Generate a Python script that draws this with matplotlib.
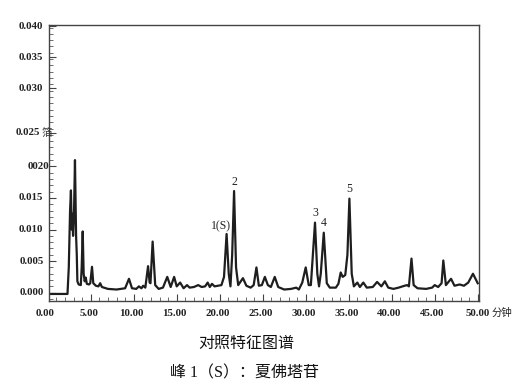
import matplotlib
matplotlib.use("Agg")
import matplotlib.pyplot as plt
from matplotlib.ticker import MultipleLocator, FixedLocator
import matplotlib.transforms as mtransforms

# retention time (min) and detector signal
time_min = [0.0, 2.3, 2.45, 2.6, 2.7, 2.8, 2.85, 2.95, 3.05, 3.17, 3.3, 3.38, 3.45, 3.6,
            3.85, 3.95, 4.07, 4.18, 4.3, 4.42, 4.55, 4.8, 4.95, 5.15, 5.3, 5.6, 5.9,
            6.1, 6.3, 7.0, 8.0, 9.0, 9.45, 9.8, 10.3, 10.6, 10.9, 11.1, 11.35, 11.67,
            11.85, 11.95, 12.2, 12.5, 12.9, 13.4, 13.9, 14.3, 14.7, 15.0, 15.4, 15.8,
            16.2, 16.5, 17.0, 17.5, 17.9, 18.3, 18.6, 18.85, 19.1, 19.4, 19.8, 20.2,
            20.5, 20.8, 21.05, 21.25, 21.45, 21.67, 21.9, 22.15, 22.7, 23.1, 23.6,
            23.95, 24.27, 24.55, 24.9, 25.25, 25.6, 25.95, 26.4, 26.8, 27.5, 28.3,
            28.9, 29.2, 29.6, 30.0, 30.35, 30.6, 31.08, 31.35, 31.55, 31.75, 32.1,
            32.45, 32.8, 33.5, 33.8, 34.07, 34.3, 34.6, 34.85, 35.08, 35.35, 35.6,
            36.0, 36.3, 36.7, 37.1, 37.8, 38.3, 38.8, 39.2, 39.6, 40.2, 40.8, 41.5,
            41.8, 42.0, 42.3, 42.55, 43.0, 44.0, 44.7, 45.0, 45.4, 45.8, 46.0, 46.3,
            46.9, 47.3, 47.9, 48.4, 48.9, 49.45, 50.0]
signal = [-0.0002, -0.0002, 0.004, 0.013, 0.0162, 0.010, 0.0125, 0.009, 0.012, 0.021,
          0.009, 0.006, 0.0018, 0.0013, 0.0012, 0.004, 0.0097, 0.003, 0.0018, 0.0024,
          0.0014, 0.0013, 0.0015, 0.0041, 0.0015, 0.0011, 0.0010, 0.0015, 0.0009,
          0.0006, 0.0005, 0.0007, 0.0022, 0.0007, 0.0006, 0.001, 0.0007, 0.0011,
          0.0008, 0.0042, 0.0016, 0.0015, 0.0081, 0.0012, 0.0006, 0.0008, 0.0025,
          0.0009, 0.0025, 0.0010, 0.0016, 0.0007, 0.0012, 0.0008, 0.0009, 0.0012,
          0.0009, 0.0010, 0.0016, 0.0009, 0.0014, 0.0010, 0.0011, 0.0012, 0.0025,
          0.0093, 0.003, 0.001, 0.006, 0.0161, 0.004, 0.0012, 0.0023, 0.0011, 0.0008,
          0.0012, 0.0040, 0.0011, 0.0012, 0.0025, 0.0012, 0.0009, 0.0025, 0.0009,
          0.0005, 0.0006, 0.0008, 0.0005, 0.0016, 0.0040, 0.0012, 0.0012, 0.0111,
          0.003, 0.001, 0.003, 0.0095, 0.0015, 0.0008, 0.0008, 0.0014, 0.0032, 0.0025,
          0.0028, 0.006, 0.0149, 0.003, 0.0010, 0.0016, 0.0009, 0.0016, 0.0008,
          0.0009, 0.0017, 0.0010, 0.0018, 0.0008, 0.0006, 0.0008, 0.0011, 0.0012,
          0.0010, 0.0054, 0.0012, 0.0007, 0.0006, 0.0008, 0.0012, 0.0009, 0.0015,
          0.0051, 0.0012, 0.0022, 0.0011, 0.0013, 0.0011, 0.0016, 0.0030, 0.0015]

peak_labels = ["1(S)", "2", "3", "4", "5"]
peak_times = [20.8, 21.67, 31.08, 32.1, 35.08]
peak_heights = [0.0093, 0.0161, 0.0111, 0.0095, 0.0149]

x_ticks = [0, 5, 10, 15, 20, 25, 30, 35, 40, 45]
x_tick_labels = ["0.00", "5.00", "10.00", "15.00", "20.00", "25.00", "30.00",
                 "35.00", "40.00", "45.00"]
# y tick label positions as they sit on the printed axis
y_tick_pos = [0.0, 0.005, 0.010, 0.015, 0.020, 0.0253, 0.0324, 0.0373, 0.0422]
y_tick_labels = ["0.000", "0.005", "0.010", "0.015", "0020", "0.025 箔",
                 "0.030", "0.035", "0.040"]

serif = ["Liberation Serif", "Noto Sans CJK SC"]
cjk = ["Noto Sans CJK SC", "DejaVu Sans"]

fig = plt.figure(figsize=(5.24, 3.9), dpi=100)
ax = fig.add_axes([49 / 524, 1 - 300.7 / 390, (479 - 49) / 524, (300.7 - 25) / 390])

line_col = "#1e1e1e"
ax.plot(time_min, signal, color=line_col, lw=1.6, solid_joinstyle="round")

ax.set_xlim(0.15, 50.15)
ax.set_ylim(-0.00127, 0.0424)

for s in ax.spines.values():
    s.set_color("#444444")
    s.set_linewidth(1.0)

ax.xaxis.set_major_locator(FixedLocator(x_ticks + [50]))
ax.xaxis.set_minor_locator(MultipleLocator(1))
ax.set_xticklabels([])
ax.yaxis.set_major_locator(FixedLocator(y_tick_pos))
ax.yaxis.set_minor_locator(MultipleLocator(0.001))
ax.set_yticklabels([])
ax.tick_params(which="major", direction="in", length=5, width=0.8, color="#444444")
ax.tick_params(which="minor", direction="in", length=3, width=0.6, color="#555555")
ax.tick_params(axis="x", which="both", top=False)
ax.tick_params(axis="y", which="both", right=False)

fs_tick = 7.8

# x tick labels
xtr = mtransforms.blended_transform_factory(ax.transData, ax.transAxes)
for xv, lab in zip(x_ticks, x_tick_labels):
    ax.text(xv - 0.25, -0.045, lab, transform=xtr, ha="center", va="center",
            fontsize=fs_tick, fontweight="bold", family=serif, color="#222222")
ax.text(50.0, -0.045, "50.00", transform=xtr, ha="center", va="center",
        fontsize=fs_tick, fontweight="bold", family=serif, color="#222222")
ax.text(51.6, -0.045, "分钟", transform=xtr, ha="left", va="center",
        fontsize=7.5, family=cjk, color="#222222")

# y tick labels
ytr = mtransforms.blended_transform_factory(ax.transAxes, ax.transData)
for yv, lab in zip(y_tick_pos, y_tick_labels):
    if lab.startswith("0.025"):
        ax.text(-0.077, yv, "0.025", transform=ytr, ha="left", va="center",
                fontsize=fs_tick, fontweight="bold", family=serif, color="#222222")
        ax.text(0.008, yv, "箔", transform=ytr, ha="right", va="center",
                fontsize=7.5, family=cjk, color="#333333")
    elif lab == "0020":
        ax.text(0.001, yv, lab, transform=ytr, ha="right", va="center",
                fontsize=fs_tick, fontweight="bold", family=serif, color="#222222")
    else:
        ax.text(-0.013, yv, lab, transform=ytr, ha="right", va="center",
                fontsize=fs_tick, fontweight="bold", family=serif, color="#222222")

# peak labels
for lab, tx, hy in zip(peak_labels, peak_times, peak_heights):
    if lab == "1(S)":
        ax.annotate(lab, xy=(tx, hy), xytext=(-4, 1), textcoords="offset points",
                    ha="center", va="bottom", fontsize=8.5, family=serif,
                    color="#222222")
    else:
        ax.annotate(lab, xy=(tx, hy), xytext=(0, 2.5), textcoords="offset points",
                    ha="center", va="bottom", fontsize=8.5, family=serif,
                    color="#222222")

fig.text(246 / 524, 1 - 343 / 390, "对照特征图谱", ha="center", va="center",
         fontsize=11.5, family=cjk, color="#111111")
fig.text(245 / 524, 1 - 373 / 390, "峰 1（S）：夏佛塔苷", ha="center", va="center",
         fontsize=11.5, family=serif, color="#111111")

fig.savefig("out.png", dpi=100, facecolor="white")
